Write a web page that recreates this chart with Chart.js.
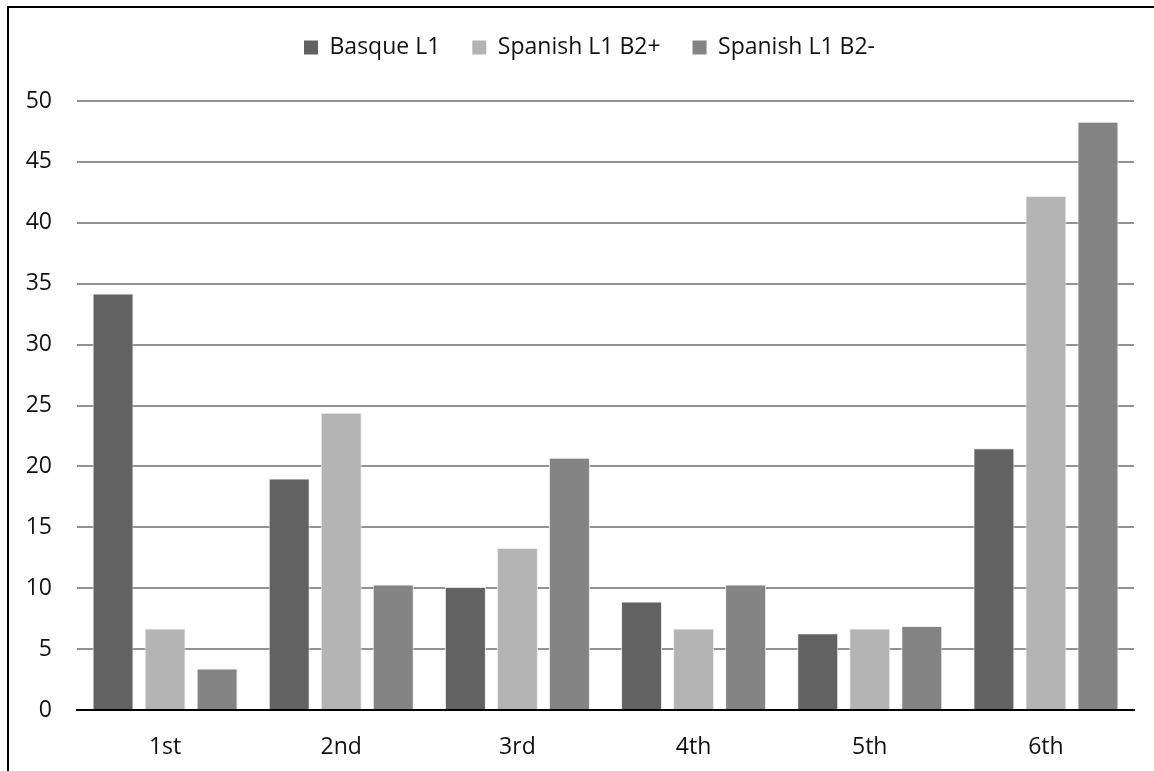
<!DOCTYPE html>
<html>
<head>
<meta charset="utf-8">
<title>Responses by position</title>
<script src="https://cdn.jsdelivr.net/npm/chart.js@4.4.1/dist/chart.umd.min.js"></script>
<style>
  html, body { margin: 0; padding: 0; background: #fff; }
  #wrap { position: relative; width: 1154px; height: 771px; overflow: hidden; }
  #chart { position: absolute; left: 0; top: 0; }
  /* outer frame: only the top and left edges fall inside the view */
  #frame {
    position: absolute; left: 7px; top: 6px; width: 1200px; height: 800px;
    border-top: 2px solid #000; border-left: 2px solid #000;
    pointer-events: none;
  }
</style>
</head>
<body>
<div id="wrap">
  <canvas id="chart" width="1154" height="771"></canvas>
  <div id="frame"></div>
</div>
<script>
// Categories along the x axis
const positions = ['1st', '2nd', '3rd', '4th', '5th', '6th'];

// Series values (percent)
const basqueL1 = [34.2, 19.0, 10.1, 8.9, 6.3, 21.5];
const spanishB2Plus = [6.7, 24.4, 13.3, 6.7, 6.7, 42.2];
const spanishB2Minus = [3.4, 10.3, 20.7, 10.3, 6.9, 48.3];

// Y axis range and step
const yMin = 0;
const yMax = 50;
const yStep = 5;

const seriesNames = ['Basque L1', 'Spanish L1 B2+', 'Spanish L1 B2-'];
const seriesColors = ['#626262', '#b4b4b4', '#848484'];

const FONT = "'Open Sans', 'DejaVu Sans', sans-serif";
const TEXT = '#111';

// Legend band: fixed height so the plot starts below it, and centred
// over the span from x=45 to the right edge of the plot
const legendBand = {
  id: 'legendBand',
  beforeUpdate(chart) {
    const lg = chart.legend;
    if (lg && !lg._bandSet) {
      const origFit = lg.fit;
      lg.fit = function () {
        origFit.call(this);
        this.height = 97;
      };
      lg._bandSet = true;
    }
  },
  afterLayout(chart) {
    if (chart.legend) chart.legend.left = 45;
  }
};

const datasets = [basqueL1, spanishB2Plus, spanishB2Minus].map((vals, i) => ({
  label: seriesNames[i],
  data: vals,
  backgroundColor: seriesColors[i],
  borderColor: 'rgba(235,235,235,0.9)',
  borderWidth: 1,
  borderSkipped: 'start',
  categoryPercentage: 0.886,
  barPercentage: 0.788
}));

new Chart(document.getElementById('chart'), {
  type: 'bar',
  data: { labels: positions, datasets },
  plugins: [legendBand],
  options: {
    responsive: false,
    animation: false,
    events: [],
    layout: { padding: { top: 4, left: 0, right: 20, bottom: 0 } },
    plugins: {
      tooltip: { enabled: false },
      legend: {
        display: true,
        position: 'top',
        align: 'center',
        labels: {
          font: { family: FONT, size: 23 },
          color: TEXT,
          boxWidth: 14,
          boxHeight: 14,
          padding: 32,
          generateLabels(chart) {
            return chart.data.datasets.map((ds, i) => ({
              text: ds.label,
              fillStyle: ds.backgroundColor,
              strokeStyle: ds.backgroundColor,
              lineWidth: 0,
              fontColor: TEXT,
              hidden: false,
              datasetIndex: i
            }));
          }
        }
      }
    },
    scales: {
      x: {
        offset: true,
        grid: { display: false, drawTicks: false },
        border: { display: true, color: '#000', width: 2 },
        ticks: {
          font: { family: FONT, size: 23 },
          color: TEXT,
          padding: 24,
          maxRotation: 0
        },
        afterFit(scale) { scale.height = 61; }
      },
      y: {
        min: yMin,
        max: yMax,
        ticks: {
          stepSize: yStep,
          font: { family: FONT, size: 23 },
          color: TEXT,
          padding: 25
        },
        grid: {
          drawTicks: false,
          lineWidth: 2,
          color: (ctx) => (ctx.tick && ctx.tick.value === 0 ? '#000' : '#929292')
        },
        border: { display: false },
        afterFit(scale) { scale.width = 77; }
      }
    }
  }
});
</script>
</body>
</html>
